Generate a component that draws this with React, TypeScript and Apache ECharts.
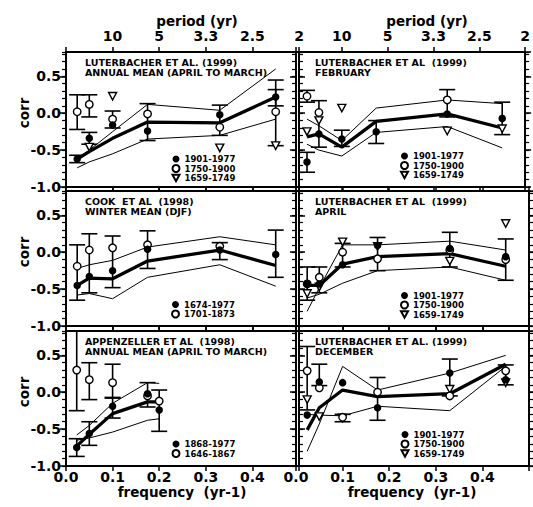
import React, { useEffect, useRef } from "react";
import * as echarts from "echarts";

// ---------- shared axis data ----------
const freqs = [0.024, 0.05, 0.1, 0.175, 0.33, 0.45];
const freqsAppenzeller = [0.023, 0.05, 0.1, 0.175, 0.2];
const bottomTickLabels = ["0.0", "0.1", "0.2", "0.3", "0.4"];
const topTickLabels = ["10", "5", "3.3", "2.5", "2"]; // period at freq 0.1 .. 0.5
const yTickLabels = ["-1.0", "-0.5", "0.0", "0.5"];

// ---------- panel 1: Luterbacher annual ----------
const p1Names = ["1901-1977", "1750-1900", "1659-1749"];
const p1Thick = [-0.62, -0.52, -0.34, -0.12, -0.13, 0.22];
const p1Upper = [-0.62, -0.5, -0.25, 0.12, 0.04, 0.6];
const p1Lower = [-0.74, -0.66, -0.55, -0.35, -0.3, -0.08];
const p1Filled = [-0.62, -0.34, -0.16, -0.24, -0.02, 0.22];
const p1Open = [0.02, 0.12, -0.08, -0.01, -0.19, 0.02];
const p1Tri = [null, -0.46, 0.23, null, -0.47, -0.44];
const p1Err = [
  [0.024, -0.67, -0.57], [0.024, -0.22, 0.25], [0.05, -0.42, -0.26], [0.05, -0.05, 0.25],
  [0.1, -0.2, 0.03], [0.175, -0.37, 0.13], [0.33, -0.3, 0.11], [0.45, -0.44, 0.45], [0.45, 0.1, 0.32],
];

// ---------- panel 2: Luterbacher February ----------
const p2Names = ["1901-1977", "1750-1900", "1659-1749"];
const p2Thick = [-0.32, -0.28, -0.46, -0.11, -0.01, -0.2];
const p2Upper = [-0.08, -0.17, -0.37, 0.07, 0.18, 0.13];
const p2Lower = [-0.42, -0.5, -0.58, -0.26, -0.18, -0.47];
const p2Filled = [-0.66, -0.28, -0.35, -0.25, -0.01, -0.07];
const p2Open = [0.23, 0.01, null, null, 0.18, null];
const p2Tri = [-0.25, -0.1, 0.07, null, -0.24, -0.21];
const p2Err = [
  [0.024, -0.8, -0.53], [0.024, 0.15, 0.31], [0.05, -0.46, 0.17], [0.1, -0.45, -0.23],
  [0.175, -0.41, -0.1], [0.33, -0.05, 0.32], [0.45, -0.29, 0.15],
];

// ---------- panel 3: Cook winter ----------
const p3Names = ["1674-1977", "1701-1873"];
const p3Thick = [-0.45, -0.35, -0.36, -0.12, 0.03, -0.18];
const p3Upper = [-0.22, -0.17, -0.11, 0.07, 0.21, 0.1];
const p3Lower = [-0.58, -0.56, -0.63, -0.34, -0.17, -0.46];
const p3Filled = [-0.45, -0.33, -0.25, 0.04, 0.03, -0.03];
const p3Open = [-0.19, 0.03, 0.06, 0.1, 0.08, null];
const p3Err = [
  [0.024, -0.65, 0.1], [0.05, -0.55, 0.25], [0.1, -0.48, 0.22], [0.175, -0.22, 0.29],
  [0.33, -0.1, 0.13], [0.45, -0.34, 0.3],
];

// ---------- panel 4: Luterbacher April ----------
const p4Names = ["1901-1977", "1750-1900", "1659-1749"];
const p4Thick = [-0.45, -0.45, -0.16, -0.06, -0.02, -0.19];
const p4Upper = [-0.8, -0.48, 0.1, 0.1, 0.15, 0.03];
const p4Lower = [-0.62, -0.57, -0.42, -0.25, -0.2, -0.38];
const p4Filled = [-0.43, -0.43, -0.17, 0.09, 0.05, -0.06];
const p4Open = [-0.43, -0.34, 0.0, -0.09, 0.03, -0.1];
const p4Tri = [-0.56, -0.47, 0.14, 0.08, -0.12, 0.39];
const p4Err = [
  [0.024, -0.65, -0.2], [0.05, -0.55, -0.2], [0.1, -0.2, 0.12], [0.175, -0.25, 0.2],
  [0.33, -0.2, 0.27], [0.45, -0.38, 0.18],
];

// ---------- panel 5: Appenzeller annual ----------
const p5Names = ["1868-1977", "1646-1867"];
const p5Thick = [-0.73, -0.57, -0.29, -0.13, -0.13];
const p5Upper = [-0.58, -0.45, -0.15, 0.13, 0.12];
const p5Lower = [-0.65, -0.62, -0.54, -0.38, -0.36];
const p5Filled = [-0.75, -0.56, -0.19, -0.02, -0.24];
const p5Open = [0.3, 0.17, 0.13, -0.05, -0.12];
const p5Err = [
  [0.023, -0.87, -0.63], [0.023, -0.25, 0.95], [0.05, -0.72, -0.4], [0.05, -0.1, 0.4],
  [0.1, -0.35, -0.07], [0.1, -0.08, 0.38], [0.175, -0.2, 0.13], [0.2, -0.53, 0.03],
];

// ---------- panel 6: Luterbacher December ----------
const p6Names = ["1901-1977", "1750-1900", "1659-1749"];
const p6Thick = [-0.51, -0.21, 0.03, -0.06, -0.02, 0.38];
const p6Upper = [-0.8, -0.43, 0.35, 0.03, 0.26, 0.5];
const p6Lower = [-0.3, -0.31, -0.32, -0.19, -0.25, 0.35];
const p6Filled = [-0.31, 0.14, 0.13, -0.21, 0.26, 0.17];
const p6Open = [0.29, 0.06, -0.34, 0.0, -0.05, 0.29];
const p6Tri = [-0.1, -0.33, -0.35, null, 0.04, 0.13];
const p6Err = [
  [0.024, -0.24, 0.62], [0.05, 0.09, 0.38], [0.1, -0.4, -0.3], [0.175, -0.38, 0.2],
  [0.33, -0.05, 0.45], [0.45, 0.1, 0.37],
];

const FONT = "DejaVu Sans";

const panels = [
  { x: freqs, thick: p1Thick, upper: p1Upper, lower: p1Lower, filled: p1Filled, open: p1Open, tri: p1Tri, err: p1Err, names: p1Names,
    title: ["LUTERBACHER ET AL. (1999)", "ANNUAL MEAN (APRIL TO MARCH)"] },
  { x: freqs, thick: p2Thick, upper: p2Upper, lower: p2Lower, filled: p2Filled, open: p2Open, tri: p2Tri, err: p2Err, names: p2Names,
    title: ["LUTERBACHER ET AL  (1999)", "FEBRUARY"] },
  { x: freqs, thick: p3Thick, upper: p3Upper, lower: p3Lower, filled: p3Filled, open: p3Open, tri: null, err: p3Err, names: p3Names,
    title: ["COOK  ET AL  (1998)", "WINTER MEAN (DJF)"] },
  { x: freqs, thick: p4Thick, upper: p4Upper, lower: p4Lower, filled: p4Filled, open: p4Open, tri: p4Tri, err: p4Err, names: p4Names,
    title: ["LUTERBACHER ET AL  (1999)", "APRIL"] },
  { x: freqsAppenzeller, thick: p5Thick, upper: p5Upper, lower: p5Lower, filled: p5Filled, open: p5Open, tri: null, err: p5Err, names: p5Names,
    title: ["APPENZELLER ET AL  (1998)", "ANNUAL MEAN (APRIL TO MARCH)"] },
  { x: freqs, thick: p6Thick, upper: p6Upper, lower: p6Lower, filled: p6Filled, open: p6Open, tri: p6Tri, err: p6Err, names: p6Names,
    title: ["LUTERBACHER ET AL. (1999)", "DECEMBER"] },
];

// layout (pixels)
const colLeft = [66, 296];
const rowTop = [52, 191, 331];
const gridW = 233;
const gridH = 135;
const legendPos = [
  [171.5, 154.5], [400, 151.5], [171, 300], [400, 291], [171.5, 439.5], [400.5, 430],
];
const TRI_DOWN = "path://M0,0L10,0L5,9Z";

const pairs = (xs: number[], ys: (number | null)[]) =>
  xs.map((x, i) => (ys[i] == null ? null : [x, ys[i]])).filter((d) => d !== null);

function buildOption() {
  const grid: any[] = [];
  const xAxis: any[] = [];
  const yAxis: any[] = [];
  const series: any[] = [];
  const legend: any[] = [];
  const graphic: any[] = [];

  const axisLine = { show: true, onZero: false, lineStyle: { color: "#000", width: 2 } };
  const labelStyle = { color: "#000", fontFamily: FONT, fontWeight: "bold", fontSize: 14 };

  panels.forEach((p, g) => {
    const col = g % 2;
    const row = Math.floor(g / 2);
    grid.push({ left: colLeft[col], top: rowTop[row], width: gridW, height: gridH, containLabel: false });

    xAxis.push({
      type: "value", gridIndex: g, position: "bottom", min: 0, max: 0.5, interval: 0.1,
      axisLine, splitLine: { show: false },
      axisTick: { show: true, length: 5, lineStyle: { color: "#000", width: 1.5 } },
      axisLabel: {
        show: row === 2, margin: 4, ...labelStyle,
        formatter: (v: number) => bottomTickLabels[Math.round(v * 10)] ?? "",
      },
    });
    xAxis.push({
      type: "value", gridIndex: g, position: "top", min: 0, max: 0.5, interval: 0.1,
      axisLine, splitLine: { show: false },
      axisTick: { show: true, length: 5, lineStyle: { color: "#000", width: 1.5 } },
      axisLabel: {
        show: row === 0, margin: 9, ...labelStyle,
        formatter: (v: number) => topTickLabels[Math.round(v * 10) - 1] ?? "",
      },
    });
    const yBase = { type: "value", gridIndex: g, min: -1, max: 0.83, splitLine: { show: false } };
    yAxis.push({
      ...yBase, position: "left", interval: 0.5, axisLine,
      axisTick: { show: true, length: 6, lineStyle: { color: "#000", width: 1.5 } },
      axisLabel: {
        show: col === 0, margin: 5, ...labelStyle, showMaxLabel: false,
        formatter: (v: number) => yTickLabels[Math.round((v + 1) / 0.5)] ?? "",
      },
    });
    yAxis.push({
      ...yBase, position: "left", interval: 0.1, axisLine: { show: false, onZero: false },
      axisTick: { show: true, length: 4, lineStyle: { color: "#000", width: 1.2 } },
      axisLabel: { show: false },
    });
    yAxis.push({
      ...yBase, position: "right", interval: 0.5, axisLine,
      axisTick: { show: true, length: 6, lineStyle: { color: "#000", width: 1.5 } },
      axisLabel: { show: false },
    });
    yAxis.push({
      ...yBase, position: "right", interval: 0.1, axisLine: { show: false, onZero: false },
      axisTick: { show: true, length: 4, lineStyle: { color: "#000", width: 1.2 } },
      axisLabel: { show: false },
    });

    const xi = g * 2;
    const yi = g * 4;
    const lineCommon = { type: "line", xAxisIndex: xi, yAxisIndex: yi, symbol: "none", silent: true };
    series.push({ ...lineCommon, data: pairs(p.x, p.upper), lineStyle: { color: "#000", width: 1 }, z: 2 });
    series.push({ ...lineCommon, data: pairs(p.x, p.lower), lineStyle: { color: "#000", width: 1 }, z: 2 });
    series.push({ ...lineCommon, data: pairs(p.x, p.thick), lineStyle: { color: "#000", width: 3.3 }, z: 3 });

    series.push({
      type: "custom", xAxisIndex: xi, yAxisIndex: yi, data: p.err, encode: { x: 0, y: [1, 2] },
      silent: true, z: 4,
      renderItem: (params: any, api: any) => {
        const f = api.value(0), lo = api.value(1), hi = api.value(2);
        const cs = params.coordSys;
        const top = cs.y, bot = cs.y + cs.height;
        const a = api.coord([f, lo]);
        const b = api.coord([f, hi]);
        const yLo = Math.min(a[1], bot), yHi = Math.max(b[1], top);
        const hw = 8;
        const st = { stroke: "#000", lineWidth: 1.6 };
        const children: any[] = [
          { type: "line", shape: { x1: a[0], y1: yLo, x2: a[0], y2: yHi }, style: st },
        ];
        if (a[1] <= bot) children.push({ type: "line", shape: { x1: a[0] - hw, y1: a[1], x2: a[0] + hw, y2: a[1] }, style: st });
        if (b[1] >= top) children.push({ type: "line", shape: { x1: b[0] - hw, y1: b[1], x2: b[0] + hw, y2: b[1] }, style: st });
        return { type: "group", children };
      },
    });

    if (p.tri) {
      series.push({
        type: "scatter", name: p.names[2], xAxisIndex: xi, yAxisIndex: yi, data: pairs(p.x, p.tri),
        symbol: TRI_DOWN, symbolSize: [8, 7.5], z: 5,
        itemStyle: { color: "#fff", borderColor: "#000", borderWidth: 1.4, opacity: 1 },
      });
    }
    series.push({
      type: "scatter", name: p.names[1], xAxisIndex: xi, yAxisIndex: yi, data: pairs(p.x, p.open),
      symbol: "circle", symbolSize: 7.5, z: 6,
      itemStyle: { color: "#fff", borderColor: "#000", borderWidth: 1.4, opacity: 1 },
    });
    series.push({
      type: "scatter", name: p.names[0], xAxisIndex: xi, yAxisIndex: yi, data: pairs(p.x, p.filled),
      symbol: "circle", symbolSize: 7.5, z: 7,
      itemStyle: { color: "#000", borderColor: "#000", borderWidth: 0, opacity: 1 },
    });

    legend.push({
      orient: "vertical", left: legendPos[g][0], top: legendPos[g][1], padding: 0,
      itemWidth: 7, itemHeight: 7, itemGap: 0.5, selectedMode: false,
      data: p.names.map((n, k) => (k === 2 ? { name: n, icon: TRI_DOWN } : { name: n, icon: "circle" })),
      textStyle: { color: "#000", fontFamily: FONT, fontWeight: "bold", fontSize: 8.5, lineHeight: 9 },
    });

    const tx = colLeft[col] + 19;
    const ty = rowTop[row] + 10.5;
    p.title.forEach((t, k) => {
      graphic.push({
        type: "text", x: tx, y: ty + k * 10, silent: true,
        style: { text: t, fill: "#000", font: `bold 9.5px "${FONT}"`, align: "left", verticalAlign: "middle" },
      });
    });
  });

  const nameFont = `bold 13.5px "${FONT}"`;
  [0, 1, 2].forEach((row) => {
    graphic.push({
      type: "text", x: 24, y: rowTop[row] + 61, rotation: Math.PI / 2, silent: true,
      style: { text: "corr", fill: "#000", font: nameFont, align: "center", verticalAlign: "middle" },
    });
  });
  [0, 1].forEach((col) => {
    graphic.push({
      type: "text", x: colLeft[col] + 131, y: 21, silent: true,
      style: { text: "period (yr)", fill: "#000", font: nameFont, align: "center", verticalAlign: "middle" },
    });
    graphic.push({
      type: "text", x: colLeft[col] + 116, y: 492, silent: true,
      style: { text: "frequency  (yr-1)", fill: "#000", font: nameFont, align: "center", verticalAlign: "middle" },
    });
  });

  return {
    animation: false,
    backgroundColor: "#fff",
    grid, xAxis, yAxis, series, legend, graphic,
  };
}

export default function App() {
  const ref = useRef<HTMLDivElement>(null);
  useEffect(() => {
    if (!ref.current) return;
    const chart = echarts.init(ref.current, null, { renderer: "svg" });
    chart.setOption(buildOption() as any);
    return () => chart.dispose();
  }, []);
  return (
    <div
      ref={ref}
      style={{ position: "absolute", left: 0, top: 0, width: 533, height: 507, background: "#fff" }}
    />
  );
}
